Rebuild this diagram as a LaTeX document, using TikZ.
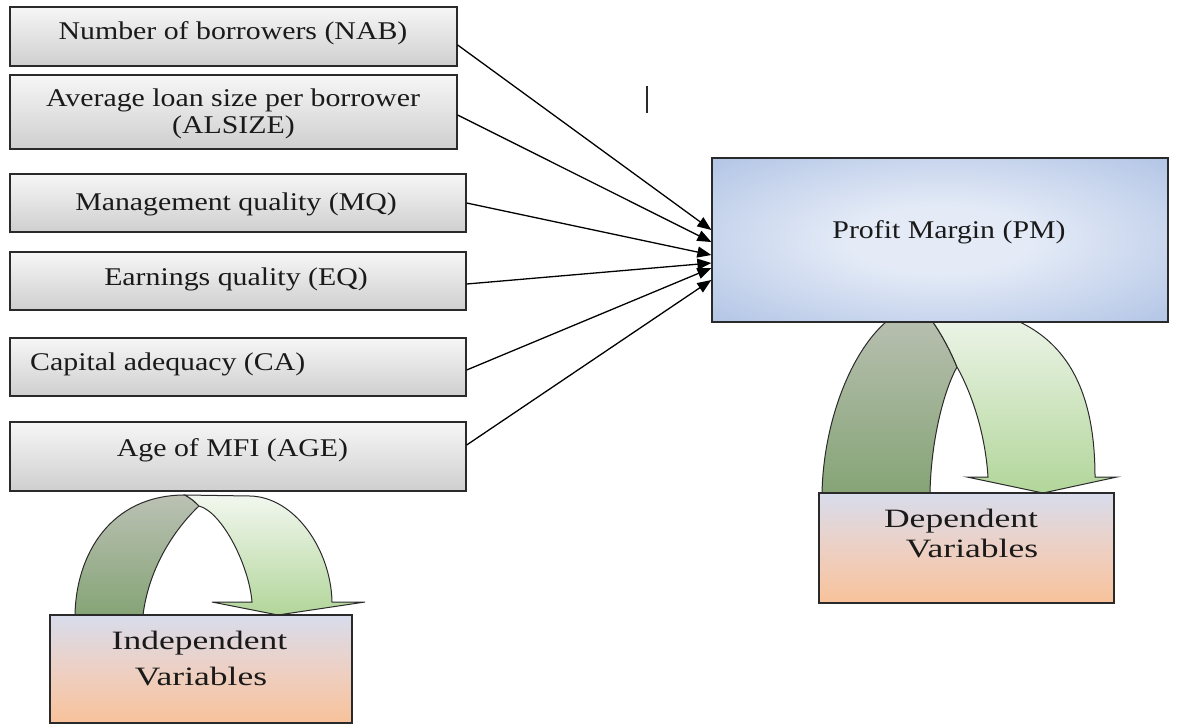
\documentclass[tikz,border=0pt]{standalone}
\usepackage{fontspec}
\setmainfont{Liberation Serif}
\newfontfamily\boxfont{Liberation Serif}[FakeStretch=1.17]
\newfontfamily\tagfont{Liberation Serif}[FakeStretch=1.34]
\usetikzlibrary{arrows.meta}

\definecolor{boxtop}{HTML}{F6F6F6}
\definecolor{boxbot}{HTML}{CFCFCF}
\definecolor{pmin}{HTML}{E4EBF7}
\definecolor{pmout}{HTML}{A6BBE1}
\definecolor{tagtop}{HTML}{D8DCEC}
\definecolor{tagmid}{HTML}{EDD0C4}
\definecolor{tagbot}{HTML}{F8C29A}
\definecolor{backtop}{HTML}{BBC1B4}
\definecolor{backbot}{HTML}{86A476}
\definecolor{fronttop}{HTML}{F2F7EF}
\definecolor{frontbot}{HTML}{B2D69A}
\definecolor{edge}{HTML}{2A2A2A}
\definecolor{ink}{HTML}{1A1A1A}

% soft glow from the middle of the result box towards its edges
\pgfdeclareradialshading{pmglow}{\pgfpoint{0bp}{0bp}}{%
  color(0bp)=(pmin); color(10bp)=(pmin); color(42bp)=(pmout); color(75bp)=(pmout)}

\tikzset{
  ibox/.style={rectangle, draw=edge, line width=1.3pt, top color=boxtop,
    bottom color=boxbot, inner sep=0pt},
  itext/.style={font=\boxfont\fontsize{25.5}{27}\selectfont, text=ink,
    inner sep=0pt, anchor=base},
  pmbox/.style={rectangle, draw=edge, line width=1.3pt, shading=pmglow,
    inner sep=0pt},
  tagbox/.style={rectangle, draw=edge, line width=1.3pt, top color=tagtop,
    bottom color=tagbot, middle color=tagmid, inner sep=0pt},
  ttext/.style={font=\tagfont\fontsize{26.5}{30}\selectfont, text=ink,
    inner sep=0pt, anchor=base},
  link/.style={draw=black, line width=1.3pt,
    -{Triangle[length=14pt,width=11pt]}},
  backband/.style={draw=edge, line width=1pt, top color=backtop,
    bottom color=backbot},
  frontband/.style={draw=edge, line width=1pt, top color=fronttop,
    bottom color=frontbot},
}

\begin{document}
\begin{tikzpicture}[x=1pt, y=-1pt]
\useasboundingbox (0,0) rectangle (1182,725);

% ---- looping arrow above the dependent-variable tag (top hidden by the result box)
\path[backband] (822,493) .. controls (824,400) and (870,310) .. (920,306)
  .. controls (935,322) and (948,345) .. (957,367)
  .. controls (944,390) and (931,440) .. (930,493) -- cycle;
\path[frontband] (920,306) .. controls (1060,300) and (1095,380) .. (1095,477)
  -- (1117,477) -- (1043,493) -- (967,477) -- (988,477)
  .. controls (985,430) and (970,390) .. (957,367)
  .. controls (948,345) and (935,322) .. (920,306) -- cycle;

% ---- looping arrow above the independent-variable tag
\path[backband] (75,615) .. controls (76,555) and (110,495) .. (185,495)
  .. controls (193,500) .. (199,506)
  .. controls (182,522) and (150,560) .. (143,615) -- cycle;
\path[frontband] (185,495) -- (250,496) .. controls (295,497) and (331,550) .. (332,602)
  -- (365,602) -- (278,615) -- (212,602) -- (252,602)
  .. controls (249,565) and (222,512) .. (199,506)
  .. controls (193,500) .. (185,495) -- cycle;

% ---- explanatory variables
\node[ibox, minimum width=447pt, minimum height=59pt] (nab) at (233.5,36.5) {};
\node[ibox, minimum width=447pt, minimum height=74pt] (als) at (233.5,112) {};
\node[ibox, minimum width=456pt, minimum height=58pt] (mq)  at (238,203) {};
\node[ibox, minimum width=456pt, minimum height=58pt] (eq)  at (238,281) {};
\node[ibox, minimum width=456pt, minimum height=58pt] (ca)  at (238,367) {};
\node[ibox, minimum width=456pt, minimum height=69pt] (age) at (238,456.5) {};

\node[itext] (nabt)  at (233,40)    {Number of borrowers (NAB)};
\node[itext] (alst1) at (233,106)   {Average loan size per borrower};
\node[itext] (alst2) at (233.5,133) {(ALSIZE)};
\node[itext] (mqt)   at (236,210)   {Management quality (MQ)};
\node[itext] (eqt)   at (236,285)   {Earnings quality (EQ)};
\node[itext, anchor=base west] (cat) at (30,370) {Capital adequacy (CA)};
\node[itext] (aget)  at (232.5,456) {Age of MFI (AGE)};

% ---- explained variable
\node[pmbox, minimum width=456pt, minimum height=164pt] (pm) at (940,240) {};
\node[itext] (pmt) at (949,238) {Profit Margin (PM)};

% ---- group tags
\node[tagbox, minimum width=295pt, minimum height=110pt] (dep) at (966.5,548) {};
\node[ttext] (dept1) at (961,527) {Dependent};
\node[ttext] (dept2) at (972,557) {Variables};

\node[tagbox, minimum width=302pt, minimum height=108pt] (ind) at (201,669) {};
\node[ttext] (indt1) at (199.5,649) {Independent};
\node[ttext] (indt2) at (201,685) {Variables};

% ---- links from each variable to profit margin
\draw[link] ([yshift=-8.5pt]nab.east) -- ([yshift=10pt]pm.west);
\draw[link] ([yshift=-3pt]als.east)   -- ([yshift=-2pt]pm.west);
\draw[link] (mq.east)                 -- ([yshift=-15pt]pm.west);
\draw[link] ([yshift=-3pt]eq.east)    -- ([yshift=-23pt]pm.west);
\draw[link] ([yshift=-3pt]ca.east)    -- ([yshift=-28pt]pm.west);
\draw[link] ([yshift=11.5pt]age.east) -- ([yshift=-40pt]pm.west);

% stray text cursor
\draw[draw=edge, line width=1.4pt] (647,86) -- (647,113);
\end{tikzpicture}
\end{document}
